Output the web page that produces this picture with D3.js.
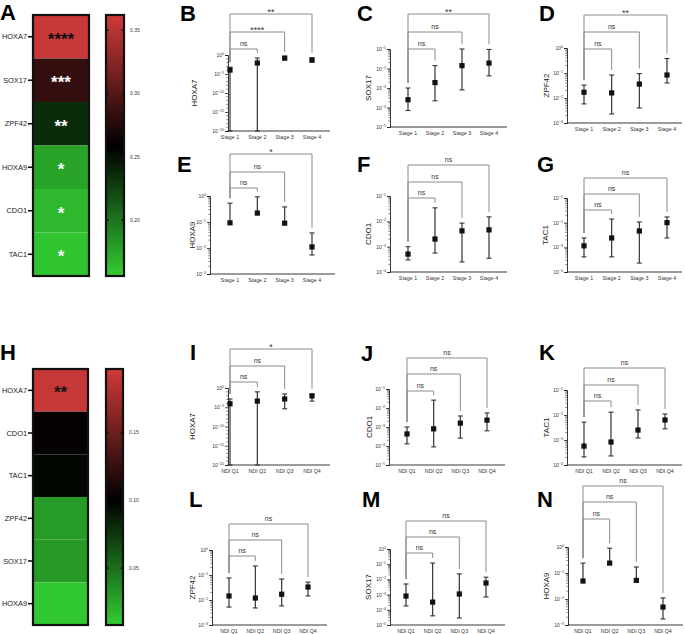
<!DOCTYPE html>
<html><head><meta charset="utf-8">
<script src="https://cdn.jsdelivr.net/npm/d3@7"></script>
<style>
body{margin:0;background:#fff}
svg{display:block}
text{font-family:"Liberation Sans",Arial,Helvetica,sans-serif}
</style>
</head><body>
<svg id="chart" width="685" height="634"></svg>
<script>
// ================= DATA =================
const stageGroups = ["Stage 1","Stage 2","Stage 3","Stage 4"];
const ndiGroups   = ["NDI Q1","NDI Q2","NDI Q3","NDI Q4"];

// Heatmap A (stage)
const heatA_genes  = ["HOXA7","SOX17","ZPF42","HOXA9","CDO1","TAC1"];
const heatA_values = [0.358,0.283,0.236,0.176,0.166,0.160];
const heatA_stars  = ["****","***","**","*","*","*"];
const heatA_ticks  = [0.20,0.25,0.30,0.35];
const heatA_scale  = [0.156,0.258,0.362];

// Heatmap H (NDI)
const heatH_genes  = ["HOXA7","CDO1","TAC1","ZPF42","SOX17","HOXA9"];
const heatH_values = [0.192,0.103,0.097,0.030,0.031,0.010];
const heatH_stars  = ["**","","","","",""];
const heatH_ticks  = [0.05,0.10,0.15];
const heatH_scale  = [0.008,0.100,0.197];

// B: HOXA7 by stage
const B_mean = [1.1e-4, 8e-3, 0.16, 0.05];
const B_low  = [1e-20, 1e-20, 0.05, 0.014];
const B_high = [6e-4, 0.16, 0.3, 0.16];
const B_sig  = ["ns","****","**"];
const B_ticks = [0,-5,-10,-15,-20];
// C: SOX17 by stage
const C_mean = [2.5e-4, 1.9e-3, 1.4e-2, 1.9e-2];
const C_low  = [7e-5, 2.2e-4, 8e-4, 4.2e-3];
const C_high = [1e-3, 1.4e-2, 0.1, 0.095];
const C_sig  = ["ns","ns","**"];
const C_ticks = [-1,-2,-3,-4,-5];
// D: ZPF42 by stage
const D_mean = [1.7e-2, 1.6e-2, 3.6e-2, 8.3e-2];
const D_low  = [5.8e-3, 2.3e-3, 4e-3, 4e-2];
const D_high = [3.3e-2, 8.3e-2, 0.095, 0.38];
const D_sig  = ["ns","ns","**"];
const D_ticks = [0,-1,-2,-3];
// E: HOXA9 by stage
const E_mean = [0.093, 0.22, 0.09, 0.011];
const E_low  = [null, null, null, 5.4e-3];
const E_high = [0.53, 0.93, 0.38, 0.038];
const E_sig  = ["ns","ns","*"];
const E_ticks = [0,-1,-2,-3];
// F: CDO1 by stage
const F_mean = [5.1e-4, 2e-3, 4.2e-3, 4.6e-3];
const F_low  = [3e-4, 5.6e-4, 2.5e-4, 3.5e-4];
const F_high = [1e-3, 3.4e-2, 8.5e-3, 1.5e-2];
const F_sig  = ["ns","ns","ns"];
const F_ticks = [-1,-2,-3,-4];
// G: TAC1 by stage
const G_mean = [1.15e-3, 2.4e-3, 4.6e-3, 1e-2];
const G_low  = [4.1e-4, 4.1e-4, 2.3e-4, 2.4e-3];
const G_high = [2.4e-3, 1.4e-2, 1.07e-2, 1.7e-2];
const G_sig  = ["ns","ns","ns"];
const G_ticks = [-1,-2,-3,-4];
// I: HOXA7 by NDI
const I_mean = [8e-5, 4e-4, 1.4e-3, 8.5e-3];
const I_low  = [1e-20, 1e-20, 4e-6, 4e-4];
const I_high = [1.4e-3, 0.1, 2.8e-2, 2.8e-2];
const I_sig  = ["ns","ns","*"];
const I_ticks = [0,-5,-10,-15,-20];
// J: CDO1 by NDI
const J_mean = [4.3e-4, 8e-4, 1.6e-3, 2.3e-3];
const J_low  = [1.3e-4, 9e-5, 2.6e-4, 6.3e-4];
const J_high = [1e-3, 2.6e-2, 3.8e-3, 5.5e-3];
const J_sig  = ["ns","ns","ns"];
const J_ticks = [-1,-2,-3,-4,-5];
// K: TAC1 by NDI
const K_mean = [5.7e-4, 8.3e-4, 2.5e-3, 6.3e-3];
const K_low  = [2.1e-4, 2.3e-4, 1.2e-3, 2.8e-3];
const K_high = [5.2e-3, 1.3e-2, 1.6e-2, 1.1e-2];
const K_sig  = ["ns","ns","ns"];
const K_ticks = [-1,-2,-3,-4];
// L: ZPF42 by NDI
const L_mean = [1.45e-2, 1.2e-2, 1.7e-2, 3.3e-2];
const L_low  = [5.2e-3, 4.8e-3, 5.8e-3, 1.45e-2];
const L_high = [7.6e-2, 0.23, 6.9e-2, 5.2e-2];
const L_sig  = ["ns","ns","ns"];
const L_ticks = [0,-1,-2,-3];
// M: SOX17 by NDI
const M_mean = [8e-4, 3.2e-4, 1.1e-3, 5.8e-3];
const M_low  = [1.8e-4, 4e-5, 2.9e-5, 7e-4];
const M_high = [5e-3, 0.12, 2.3e-2, 1.4e-2];
const M_sig  = ["ns","ns","ns"];
const M_ticks = [0,-1,-2,-3,-4,-5];
// N: HOXA9 by NDI
const N_mean = [4.9e-2, 0.24, 5.2e-2, 4.9e-3];
const N_low  = [null, null, null, 1.7e-3];
const N_high = [0.24, 0.9, 0.17, 1.1e-2];
const N_sig  = ["ns","ns","ns"];
const N_ticks = [0,-1,-2,-3];

// ================= LAYOUT =================
const svg = d3.select("#chart");

const letters = [
  ["A",0,20],["B",180,21],["C",357,21],["D",539,21],
  ["E",177,172],["F",357,172],["G",537,172],
  ["H",0,360],["I",190,360],["J",361,361],["K",539,360],
  ["L",189,507],["M",362,507],["N",537,507]
];

function drawHeat(genes, values, stars, ticks, dom, L){
  const g = svg.append("g");
  const color = d3.scaleLinear().domain(dom).range(["#33cc33","#000000","#d13a3a"]);
  const yb = d3.scaleBand().domain(genes).range([L.top, L.bot]);
  g.selectAll("rect.cell").data(genes).join("rect")
    .attr("x", L.x0).attr("width", L.x1 - L.x0)
    .attr("y", d => yb(d)).attr("height", yb.bandwidth())
    .attr("fill", (d,i) => color(values[i]));
  g.append("rect").attr("x",L.x0).attr("y",L.top).attr("width",L.x1-L.x0).attr("height",L.bot-L.top)
    .attr("fill","none").attr("stroke","#111").attr("stroke-width",2.2);
  genes.forEach((d,i)=>{
    const cy = yb(d) + yb.bandwidth()/2;
    g.append("line").attr("x1",L.x0-5).attr("x2",L.x0).attr("y1",cy).attr("y2",cy)
      .attr("stroke","#111").attr("stroke-width",1.6);
    g.append("text").attr("x",L.x0-6).attr("y",cy).attr("dy","0.35em")
      .attr("text-anchor","end").attr("font-size",7.4).attr("fill","#222").text(d);
    if (stars[i]) {
      const redish = values[i] > dom[1] + 0.6*(dom[2]-dom[1]);
      g.append("text").attr("x",(L.x0+L.x1)/2).attr("y",cy + 8)
        .attr("text-anchor","middle").attr("font-size",17).attr("font-weight","bold")
        .attr("fill", redish ? "#111" : "#fff").text(stars[i]);
    }
  });
  // colorbar
  const gid = "grad" + L.top;
  const defs = svg.append("defs");
  const grad = defs.append("linearGradient").attr("id",gid).attr("x1",0).attr("y1",1).attr("x2",0).attr("y2",0);
  const span = dom[2]-dom[0];
  dom.forEach(v => grad.append("stop").attr("offset",(v-dom[0])/span).attr("stop-color",color(v)));
  const cb = d3.scaleLinear().domain([dom[0],dom[2]]).range([L.bot, L.top]);
  g.append("rect").attr("x",L.cx0).attr("y",L.top).attr("width",L.cx1-L.cx0).attr("height",L.bot-L.top)
    .attr("fill",`url(#${gid})`).attr("stroke","#111").attr("stroke-width",2.2);
  ticks.forEach(t=>{
    const ty = cb(t);
    g.append("line").attr("x1",L.cx0-1).attr("x2",L.cx0+2.5).attr("y1",ty).attr("y2",ty).attr("stroke","#111").attr("stroke-width",1.6);
    g.append("line").attr("x1",L.cx1-2.5).attr("x2",L.cx1+1).attr("y1",ty).attr("y2",ty).attr("stroke","#111").attr("stroke-width",1.6);
    g.append("text").attr("x",L.cx1+6).attr("y",ty).attr("dy","0.35em").attr("font-size",5)
      .attr("fill","#333").text(t.toFixed(2));
  });
}

function supLabel(sel, x, y, exp, anchor){
  const t = sel.append("text").attr("x",x).attr("y",y).attr("text-anchor",anchor)
    .attr("font-size",5).attr("fill","#333");
  t.append("tspan").text("10");
  t.append("tspan").attr("dy",-2).attr("font-size",3.6).text(exp === 0 ? "0" : "\u2212" + Math.abs(exp));
  return t;
}

function drawPanel(groups, mean, low, high, sig, ticks, L){
  const g = svg.append("g");
  const lo = d3.min(ticks), hi = d3.max(ticks);
  const y = d3.scaleLog().domain([10**lo, 10**hi]).range([L.yBot, L.yTop]);
  const x = d3.scalePoint().domain(groups).range([L.first, L.last]);
  const minor = [];
  const decades = hi - lo;
  for (let d = lo; d < hi; d++) {
    if (decades <= 6) { for (let k = 2; k <= 9; k++) minor.push(k * 10**d); }
    else if ((d - lo) % 5 !== 0) minor.push(10**d);
  }
  g.append("g").selectAll("line").data(minor).join("line")
    .attr("x1",L.ax-1.8).attr("x2",L.ax).attr("y1",d=>y(d)).attr("y2",d=>y(d))
    .attr("stroke","#444").attr("stroke-width",0.6);
  const axisY = d3.axisLeft(y).tickValues(ticks.map(t=>10**t)).tickSize(3).tickFormat("");
  const ga = g.append("g").attr("transform",`translate(${L.ax},0)`).call(axisY);
  ga.select(".domain").attr("stroke","#222").attr("stroke-width",0.9);
  ga.selectAll(".tick line").attr("stroke","#222").attr("stroke-width",0.8);
  ticks.forEach(t => supLabel(g, L.ax - 4, y(10**t) + 2, t, "end"));
  g.append("line").attr("x1",L.ax).attr("x2",L.xEnd).attr("y1",L.yBot).attr("y2",L.yBot)
    .attr("stroke","#222").attr("stroke-width",0.9);
  groups.forEach(gr => g.append("text").attr("x",x(gr)).attr("y",L.yBot+8)
    .attr("text-anchor","middle").attr("font-size",5.3).attr("fill","#333").text(gr));
  g.append("text").attr("transform",`translate(${L.titleX},${(L.yTop+L.yBot)/2}) rotate(-90)`)
    .attr("text-anchor","middle").attr("font-size",8).attr("fill","#222").text(L.title);
  const dmin = 10**lo;
  groups.forEach((gr,i)=>{
    const cx = x(gr);
    const yh = y(high[i]);
    const yl = low[i] == null ? y(mean[i]) : y(Math.max(low[i], dmin));
    g.append("line").attr("x1",cx).attr("x2",cx).attr("y1",yl).attr("y2",yh)
      .attr("stroke","#333").attr("stroke-width",1.2);
    g.append("line").attr("x1",cx-2.5).attr("x2",cx+2.5).attr("y1",yh).attr("y2",yh)
      .attr("stroke","#333").attr("stroke-width",1.1);
    if (low[i] != null) g.append("line").attr("x1",cx-2.5).attr("x2",cx+2.5).attr("y1",yl).attr("y2",yl)
      .attr("stroke","#333").attr("stroke-width",1.1);
    g.append("rect").attr("x",cx-2.6).attr("y",y(mean[i])-2.6).attr("width",5.2).attr("height",5.2)
      .attr("fill","#111");
  });
  const gap = 5;
  sig.forEach((s,j)=>{
    const lvl = L.levels[j];
    const x1 = x(groups[0]), x2 = x(groups[j+1]);
    const l1 = Math.max(lvl+2, y(high[0]) - gap);
    const l2 = Math.max(lvl+2, y(high[j+1]) - gap);
    g.append("path").attr("d",`M${x1},${l1}V${lvl}H${x2}V${l2}`)
      .attr("fill","none").attr("stroke","#8c8c8c").attr("stroke-width",1);
    g.append("text").attr("x",(x1+x2)/2).attr("y", s === "ns" ? lvl-3 : lvl+1)
      .attr("text-anchor","middle").attr("font-size", s === "ns" ? 7 : 9).attr("fill","#333").text(s);
  });
}

// ================= DRAW =================
drawHeat(heatA_genes, heatA_values, heatA_stars, heatA_ticks, heatA_scale,
  {x0:33, x1:89, top:15, bot:276, cx0:106, cx1:124});
drawHeat(heatH_genes, heatH_values, heatH_stars, heatH_ticks, heatH_scale,
  {x0:33, x1:88, top:369, bot:625, cx0:106, cx1:123});

drawPanel(stageGroups, B_mean, B_low, B_high, B_sig, B_ticks,
  {ax:228, first:230, last:312, xEnd:330, yTop:55, yBot:131, levels:[49,32,14], title:"HOXA7", titleX:197});
drawPanel(stageGroups, C_mean, C_low, C_high, C_sig, C_ticks,
  {ax:390, first:408, last:489, xEnd:507, yTop:49, yBot:127, levels:[49,32,14], title:"SOX17", titleX:371});
drawPanel(stageGroups, D_mean, D_low, D_high, D_sig, D_ticks,
  {ax:567, first:584, last:667, xEnd:682, yTop:48, yBot:123, levels:[49,32,15], title:"ZPF42", titleX:549});
drawPanel(stageGroups, E_mean, E_low, E_high, E_sig, E_ticks,
  {ax:210, first:230, last:312, xEnd:335, yTop:196, yBot:274, levels:[188,172,154], title:"HOXA9", titleX:195});
drawPanel(stageGroups, F_mean, F_low, F_high, F_sig, F_ticks,
  {ax:390, first:408, last:489, xEnd:507, yTop:196, yBot:272, levels:[198,182,165], title:"CDO1", titleX:371});
drawPanel(stageGroups, G_mean, G_low, G_high, G_sig, G_ticks,
  {ax:567, first:584, last:667, xEnd:682, yTop:198, yBot:272, levels:[210,194,178], title:"TAC1", titleX:548});
drawPanel(ndiGroups, I_mean, I_low, I_high, I_sig, I_ticks,
  {ax:228, first:230, last:312, xEnd:330, yTop:388, yBot:465, levels:[382,366,349], title:"HOXA7", titleX:195});
drawPanel(ndiGroups, J_mean, J_low, J_high, J_sig, J_ticks,
  {ax:389, first:407, last:487, xEnd:505, yTop:389, yBot:465, levels:[391,374,358], title:"CDO1", titleX:372});
drawPanel(ndiGroups, K_mean, K_low, K_high, K_sig, K_ticks,
  {ax:567, first:584, last:665, xEnd:682, yTop:390, yBot:465, levels:[401,385,368], title:"TAC1", titleX:549});
drawPanel(ndiGroups, L_mean, L_low, L_high, L_sig, L_ticks,
  {ax:212, first:229, last:308, xEnd:327, yTop:550, yBot:625, levels:[556,540,524], title:"ZPF42", titleX:195});
drawPanel(ndiGroups, M_mean, M_low, M_high, M_sig, M_ticks,
  {ax:390, first:406, last:486, xEnd:505, yTop:549, yBot:625, levels:[553,537,521], title:"SOX17", titleX:371});
drawPanel(ndiGroups, N_mean, N_low, N_high, N_sig, N_ticks,
  {ax:568, first:583, last:663, xEnd:683, yTop:547, yBot:625, levels:[519,502,486], title:"HOXA9", titleX:549});

letters.forEach(([t,x,y]) => svg.append("text").attr("x",x).attr("y",y)
  .attr("font-size",22).attr("font-weight","bold").attr("fill","#000").text(t));
</script>
</body></html>
